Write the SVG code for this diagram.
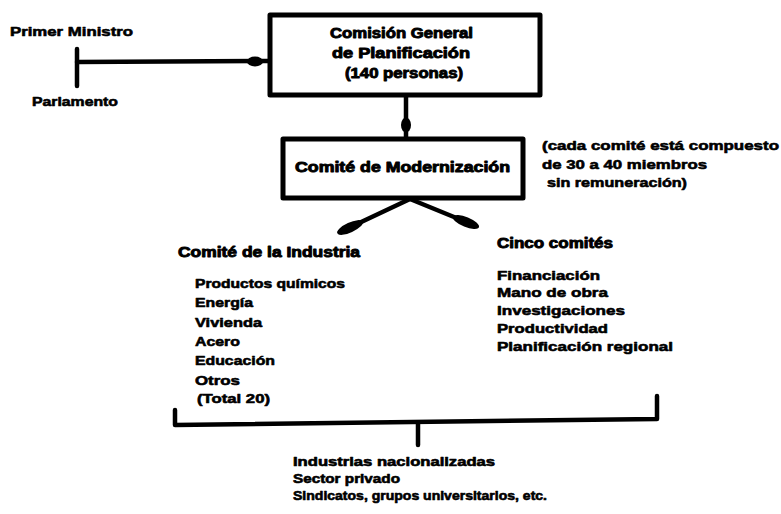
<svg xmlns="http://www.w3.org/2000/svg" width="781" height="514" viewBox="0 0 781 514">
  <style>
    .box { fill: #ffffff; stroke: #000000; stroke-width: 5; stroke-linejoin: round; }
    .ln { fill: none; stroke: #000000; stroke-width: 4.5; stroke-linecap: round; stroke-linejoin: round; }
    .blob { fill: #000000; }
    text { font-family: "Liberation Sans", Arial, sans-serif; font-weight: bold; fill: #000000; stroke: #000000; stroke-width: 0.6; stroke-linejoin: round; }
    .h { font-size: 14px; stroke-width: 0.9; }
    .t { font-size: 13px; }
    .s { font-size: 12px; }
  </style>
  <rect width="781" height="514" fill="#ffffff"/>

  <!-- connectors -->
  <g id="connectors">
    <!-- Primer Ministro / Parlamento to the Comisión -->
    <path class="ln" d="M77,49 V86" stroke-width="5"/>
    <path class="ln" d="M77,62 L268,61"/>
    <ellipse class="blob" cx="255" cy="61.5" rx="8" ry="5"/>
    <!-- Comisión to Comité de Modernización -->
    <path class="ln" d="M406,97 V138"/>
    <ellipse class="blob" cx="406" cy="125" rx="5" ry="7.5"/>
    <!-- split to the two groups of committees -->
    <path class="ln" d="M410,199 L340,232" stroke-width="5"/>
    <path class="ln" d="M410,199 L476,226" stroke-width="5"/>
    <ellipse class="blob" cx="350" cy="227.5" rx="14" ry="5" transform="rotate(155.4 350 227.5)"/>
    <ellipse class="blob" cx="466" cy="222" rx="14" ry="5" transform="rotate(22.4 466 222)"/>
    <!-- bracket gathering both lists -->
    <path class="ln" d="M175,410 V425 L657,419 V396" stroke-width="5"/>
    <path class="ln" d="M418,423 V445" stroke-width="5"/>
  </g>

  <g id="primer-ministro">
    <text class="t" x="10" y="36" textLength="123" lengthAdjust="spacingAndGlyphs">Primer Ministro</text>
  </g>
  <g id="parlamento">
    <text class="t" x="32" y="106" textLength="86" lengthAdjust="spacingAndGlyphs">Parlamento</text>
  </g>

  <g id="comision-general">
    <rect class="box" x="270" y="15" width="270" height="80"/>
    <text class="h" x="330" y="38" textLength="143" lengthAdjust="spacingAndGlyphs">Comisión General</text>
    <text class="h" x="332" y="58" textLength="138" lengthAdjust="spacingAndGlyphs">de Planificación</text>
    <text class="h" x="345" y="78" textLength="118" lengthAdjust="spacingAndGlyphs">(140 personas)</text>
  </g>

  <g id="comite-modernizacion">
    <rect class="box" x="283" y="139" width="240" height="59"/>
    <text class="h" x="295" y="172" textLength="215" lengthAdjust="spacingAndGlyphs">Comité de Modernización</text>
  </g>

  <g id="nota">
    <text class="t" x="542" y="150" textLength="237" lengthAdjust="spacingAndGlyphs">(cada comité está compuesto</text>
    <text class="t" x="542" y="169" textLength="165" lengthAdjust="spacingAndGlyphs">de 30 a 40 miembros</text>
    <text class="t" x="547" y="187" textLength="140" lengthAdjust="spacingAndGlyphs">sin remuneración)</text>
  </g>

  <g id="comite-industria">
    <text class="h" x="178" y="257" textLength="182" lengthAdjust="spacingAndGlyphs">Comité de la Industria</text>
    <text class="t" x="195" y="288" textLength="150" lengthAdjust="spacingAndGlyphs">Productos químicos</text>
    <text class="t" x="195" y="307" textLength="58" lengthAdjust="spacingAndGlyphs">Energía</text>
    <text class="t" x="195" y="327" textLength="67" lengthAdjust="spacingAndGlyphs">Vivienda</text>
    <text class="t" x="195" y="346" textLength="45" lengthAdjust="spacingAndGlyphs">Acero</text>
    <text class="t" x="195" y="365" textLength="80" lengthAdjust="spacingAndGlyphs">Educación</text>
    <text class="t" x="195" y="385" textLength="45" lengthAdjust="spacingAndGlyphs">Otros</text>
    <text class="t" x="197" y="403" textLength="73" lengthAdjust="spacingAndGlyphs">(Total 20)</text>
  </g>

  <g id="cinco-comites">
    <text class="h" x="497" y="248" textLength="116" lengthAdjust="spacingAndGlyphs">Cinco comités</text>
    <text class="t" x="497" y="280" textLength="103" lengthAdjust="spacingAndGlyphs">Financiación</text>
    <text class="t" x="497" y="297" textLength="111" lengthAdjust="spacingAndGlyphs">Mano de obra</text>
    <text class="t" x="497" y="315" textLength="128" lengthAdjust="spacingAndGlyphs">Investigaciones</text>
    <text class="t" x="497" y="333" textLength="111" lengthAdjust="spacingAndGlyphs">Productividad</text>
    <text class="t" x="497" y="351" textLength="176" lengthAdjust="spacingAndGlyphs">Planificación regional</text>
  </g>

  <g id="participantes">
    <text class="s" x="293" y="466" textLength="202" lengthAdjust="spacingAndGlyphs">Industrias nacionalizadas</text>
    <text class="s" x="293" y="483" textLength="107" lengthAdjust="spacingAndGlyphs">Sector privado</text>
    <text class="s" x="293" y="500" textLength="254" lengthAdjust="spacingAndGlyphs">Sindicatos, grupos universitarios, etc.</text>
  </g>
</svg>
